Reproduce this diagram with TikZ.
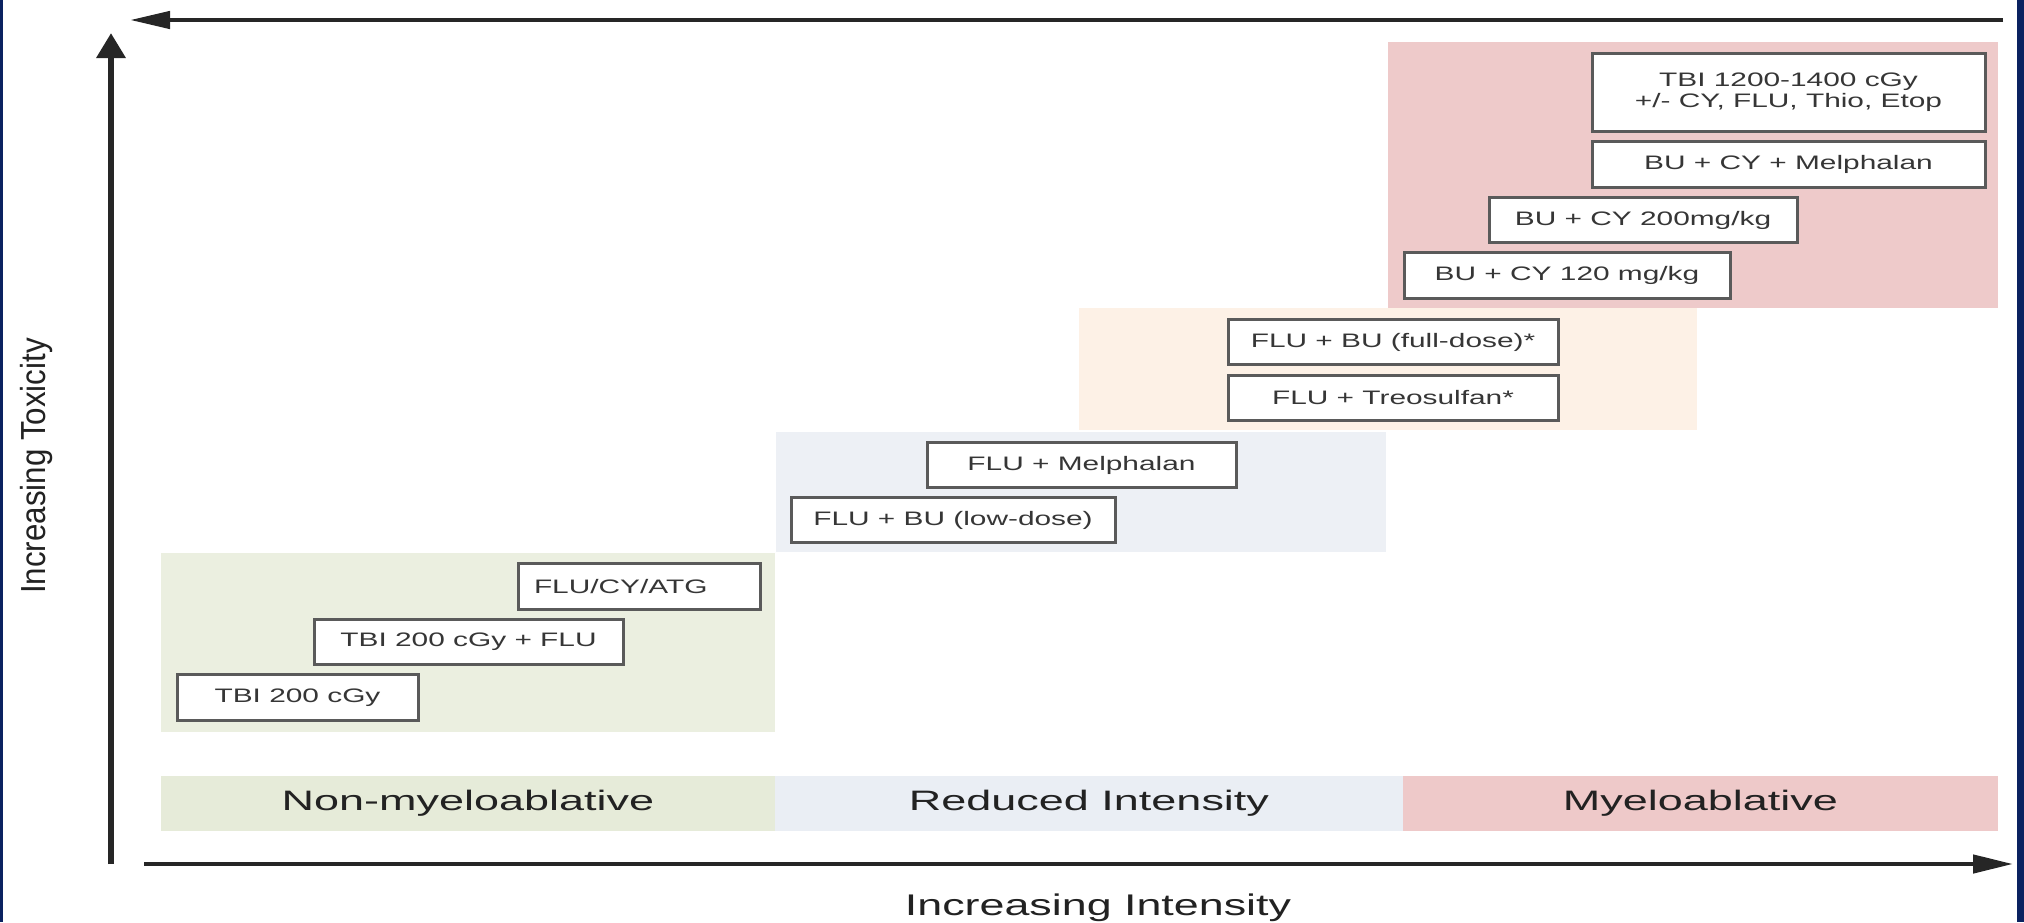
\documentclass[tikz,border=0pt]{standalone}
\usepackage{fontspec}
\setmainfont{Liberation Sans}
\newfontfamily\boxfont[FakeStretch=1.53]{Liberation Sans}
\newfontfamily\bandfont[FakeStretch=1.6]{Liberation Sans}
\newfontfamily\axisfont[FakeStretch=1.5]{Liberation Sans}
\newfontfamily\sidefont[FakeStretch=0.9]{Liberation Sans}
\usetikzlibrary{arrows.meta}
\definecolor{frameNavy}{HTML}{0B2260}
\definecolor{regGreen}{HTML}{EBEFE0}
\definecolor{regBlue}{HTML}{EDF0F5}
\definecolor{regOrange}{HTML}{FDF1E6}
\definecolor{regPink}{HTML}{EECACA}
\definecolor{bandGreen}{HTML}{E6EBD9}
\definecolor{bandBlue}{HTML}{EAEEF4}
\definecolor{bandPink}{HTML}{EEC9C9}
\definecolor{boxLine}{HTML}{5A5A5A}
\definecolor{boxText}{HTML}{363636}
\definecolor{darkText}{HTML}{222222}
\definecolor{axisLine}{HTML}{262626}
\tikzset{
  regbox/.style={draw=boxLine, line width=0.3mm, fill=white, minimum height=4.55mm,
    inner sep=0pt, align=center, text=boxText, font=\boxfont\fontsize{5.55}{6.1}\selectfont},
  band/.style={minimum height=5.5mm, inner sep=0pt, text=darkText,
    font=\bandfont\fontsize{8}{9}\selectfont},
  axis/.style={draw=axisLine, line width=0.45mm},
}
\begin{document}
\begin{tikzpicture}[x=0.1mm, y=-0.1mm]
\useasboundingbox (0,0) rectangle (2024,922);
\fill[white] (0,0) rectangle (2024,922);
\fill[frameNavy] (0,0) rectangle (3,922);
\fill[frameNavy] (2017,0) rectangle (2024,922);
% shaded steps
\fill[regGreen] (161,553) rectangle (775,732);
\fill[regBlue] (776,432) rectangle (1386,552);
\fill[regOrange] (1079,308) rectangle (1697,430);
\fill[regPink] (1388,42) rectangle (1998,308);
% regimens
\node[regbox, minimum width=24.1mm] (tbiLow) at (297.5,697.5) {TBI 200 cGy};
\node[regbox, minimum width=30.9mm] (tbiFlu) at (468.5,642) {TBI 200 cGy + FLU};
\node[regbox, text width=21mm, inner xsep=1.6mm, align=left] (fluCyAtg) at (639,586.5) {FLU/CY/ATG};
\node[regbox, minimum width=32.4mm] (fluBuLow) at (953,520) {FLU + BU (low-dose)};
\node[regbox, minimum width=30.9mm] (fluMel) at (1081.5,465) {FLU + Melphalan};
\node[regbox, minimum width=33mm] (fluTreo) at (1393,398) {FLU + Treosulfan*};
\node[regbox, minimum width=33mm] (fluBuFull) at (1393,342) {FLU + BU (full-dose)*};
\node[regbox, minimum width=32.6mm] (buCyLow) at (1567,275.5) {BU + CY 120 mg/kg};
\node[regbox, minimum width=30.8mm] (buCyHigh) at (1643,220) {BU + CY 200mg/kg};
\node[regbox, minimum width=39.3mm] (buCyMel) at (1788.5,164.5) {BU + CY + Melphalan};
\node[regbox, minimum width=39.3mm, minimum height=7.8mm] (tbiHigh) at (1788.5,92) {TBI 1200-1400 cGy\\+/- CY, FLU, Thio, Etop};
% intensity bands
\node[band, fill=bandGreen, minimum width=61.4mm] (nonMyelo) at (468,803.5) {Non-myeloablative};
\node[band, fill=bandBlue, minimum width=62.8mm] (reduced) at (1089,803.5) {Reduced Intensity};
\node[band, fill=bandPink, minimum width=59.5mm] (myelo) at (1700.5,803.5) {Myeloablative};
% axes
\coordinate (topRight) at (2003,20);
\coordinate (topLeft) at (130,20);
\draw[axis, -{Triangle[length=4mm, width=1.7mm]}] (topRight) -- (topLeft);
\coordinate (yFoot) at (111,864);
\coordinate (yHead) at (111,33);
\draw[axis, line width=0.65mm, -{Triangle[length=2.5mm, width=2.8mm]}] (yFoot) -- (yHead);
\coordinate (xFoot) at (144,864);
\coordinate (xHead) at (2013,864);
\draw[axis, -{Triangle[length=4mm, width=1.8mm]}] (xFoot) -- (xHead);
\node[text=darkText, font=\axisfont\fontsize{8.5}{10}\selectfont, anchor=base] (intensity) at (1098,915) {Increasing Intensity};
\node[text=darkText, font=\sidefont\fontsize{9.9}{11}\selectfont, rotate=90] (toxicity) at (37,466) {Increasing Toxicity};
\end{tikzpicture}
\end{document}
